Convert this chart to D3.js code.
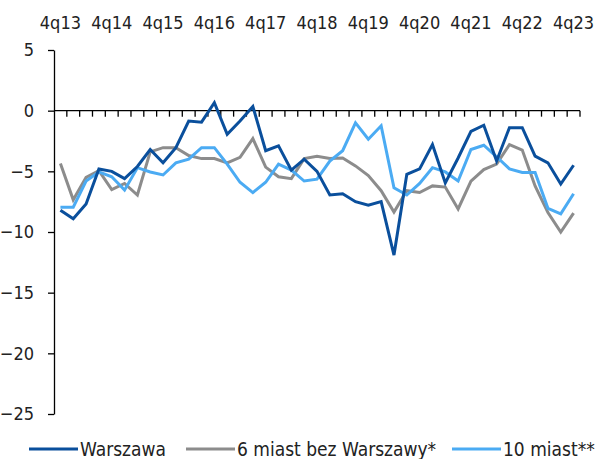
<!DOCTYPE html>
<html><head><meta charset="utf-8">
<script src="https://cdn.jsdelivr.net/npm/d3@7"></script>
<style>
html,body{margin:0;padding:0;background:#fff;}
svg text{font-family:"DejaVu Sans Condensed","Liberation Sans Narrow",sans-serif;fill:#222;}
</style></head>
<body>
<svg id="chart" width="598" height="459"></svg>
<script>
const quarters = (function(){
  const q = [];
  for (let y = 13; y <= 23; y++) {
    for (let k = 1; k <= 4; k++) {
      if (y === 13 && k < 4) continue;
      q.push(k + "q" + String(y).padStart(2, "0"));
    }
  }
  return q;
})();
const yTicks = [5, 0, -5, -10, -15, -20, -25];
const seriesNames = ["Warszawa", "6 miast bez Warszawy*", "10 miast**"];
const warszawa = [-8.2,-8.9,-7.7,-4.8,-5.0,-5.6,-4.6,-3.2,-4.3,-3.05,-0.85,-0.95,0.65,-1.95,-0.85,0.35,-3.3,-2.9,-4.9,-4.0,-5.0,-6.95,-6.85,-7.5,-7.8,-7.5,-11.9,-5.25,-4.8,-2.8,-5.95,-3.9,-1.7,-1.2,-4.15,-1.4,-1.4,-3.75,-4.3,-6.05,-4.5];
const miast6 = [-4.35,-7.35,-5.5,-4.95,-6.5,-6.0,-6.95,-3.4,-3.05,-3.05,-3.7,-3.95,-3.95,-4.3,-3.85,-2.3,-4.65,-5.45,-5.6,-3.95,-3.75,-3.95,-3.9,-4.55,-5.35,-6.6,-8.35,-6.6,-6.75,-6.2,-6.3,-8.1,-5.8,-4.85,-4.4,-2.8,-3.25,-6.2,-8.4,-10.0,-8.45];
const miast10 = [-7.95,-7.95,-5.8,-5.05,-5.45,-6.55,-4.7,-5.05,-5.3,-4.3,-4.0,-3.05,-3.05,-4.4,-5.9,-6.75,-5.9,-4.4,-4.9,-5.8,-5.65,-4.15,-3.3,-1.0,-2.35,-1.25,-6.35,-6.95,-6.0,-4.7,-5.05,-5.8,-3.2,-2.85,-3.8,-4.8,-5.1,-5.1,-8.05,-8.5,-6.85];
const colors = ["#0a4f9c", "#8c8c8c", "#4babf3"];

const svg = d3.select("#chart");
const x = d3.scaleBand().domain(quarters).range([54, 580]).padding(0);
const y = d3.scaleLinear().domain([-25, 5]).range([414, 50]);
const bw = x.bandwidth();

// top quarter labels
svg.append("g").selectAll("text")
  .data(quarters.filter(q => q.startsWith("4q")))
  .join("text")
  .attr("x", d => x(d) + bw / 2)
  .attr("y", 22)
  .attr("text-anchor", "middle")
  .attr("dominant-baseline", "central")
  .attr("font-size", 18)
  .text(d => d);

// y axis
const yAxis = svg.append("g").attr("transform", "translate(54,0)")
  .call(d3.axisLeft(y).tickValues(yTicks).tickSize(6).tickSizeOuter(0).tickPadding(14).tickFormat(d3.format("d")));
yAxis.select(".domain").attr("stroke", "#000").attr("stroke-width", 1.3);
yAxis.selectAll(".tick line").attr("stroke", "#000").attr("stroke-width", 1.3);
yAxis.selectAll(".tick text").attr("font-size", 18).attr("fill", "#222")
  .style("font-family", "'DejaVu Sans Condensed','Liberation Sans Narrow',sans-serif");

// zero line with hanging ticks at band boundaries
const z = svg.append("g");
z.append("line").attr("x1", x.range()[0]).attr("x2", x.range()[1])
  .attr("y1", y(0)).attr("y2", y(0)).attr("stroke", "#000").attr("stroke-width", 1.3);
z.selectAll("line.t").data(quarters).join("line").attr("class", "t")
  .attr("x1", d => x(d) + bw).attr("x2", d => x(d) + bw)
  .attr("y1", y(0)).attr("y2", y(0) + 6)
  .attr("stroke", "#000").attr("stroke-width", 1.3);

// lines
const line = d3.line().x((d, i) => x(quarters[i]) + bw / 2).y(d => y(d));
const data = [warszawa, miast6, miast10];
[1, 2, 0].forEach(k => {
  svg.append("path").datum(data[k])
    .attr("d", line).attr("fill", "none")
    .attr("stroke", colors[k]).attr("stroke-width", 3)
    .attr("stroke-linejoin", "miter");
});

// legend
const legendX = [29, 186, 452];
const lg = svg.append("g");
seriesNames.forEach((n, k) => {
  const g = lg.append("g").attr("transform", `translate(${legendX[k]},449)`);
  g.append("line").attr("x1", 0).attr("x2", 49).attr("y1", 0).attr("y2", 0)
    .attr("stroke", colors[k]).attr("stroke-width", 3);
  g.append("text").attr("x", 51).attr("y", 0).attr("dominant-baseline", "central")
    .attr("font-size", 19).text(n);
});
</script>
</body></html>
